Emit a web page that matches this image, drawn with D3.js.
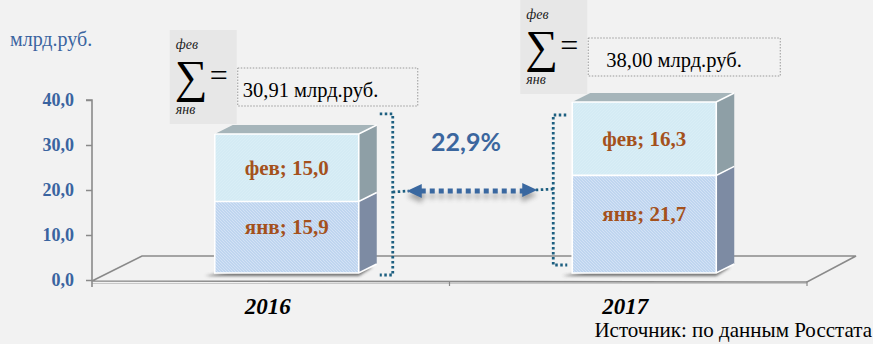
<!DOCTYPE html>
<html><head><meta charset="utf-8">
<script src="https://cdn.jsdelivr.net/npm/d3@7"></script>
<style>
html,body{margin:0;padding:0;background:#f2f2f2;}
svg{display:block;}
</style></head>
<body>
<svg id="c" width="873" height="344"></svg>
<script>
const years = ["2016", "2017"];
const janValues = [15.9, 21.7];
const febValues = [15.0, 16.3];
const totalLabels = ["30,91 млрд.руб.", "38,00 млрд.руб."];
const growthLabel = "22,9%";
const yTicks = [0, 10, 20, 30, 40];
const unitLabel = "млрд.руб.";
const sourceLabel = "Источник: по данным Росстата";
const janName = "янв", febName = "фев";

const SERIF = "'Liberation Serif', 'Times New Roman', serif";
const svg = d3.select("#c");
svg.append("rect").attr("width", 873).attr("height", 344).attr("fill", "#f2f2f2");

const defs = svg.append("defs");
const pat = defs.append("pattern").attr("id", "hatch").attr("patternUnits", "userSpaceOnUse")
  .attr("width", 3).attr("height", 3);
pat.append("rect").attr("width", 3).attr("height", 3).attr("fill", "#bfd5ef");
pat.append("path").attr("d", "M0,0 L3,3 M-1,2 L1,4 M2,-1 L4,1").attr("stroke", "#d8e6f6").attr("stroke-width", 0.8);
const pat2 = defs.append("pattern").attr("id", "hatch2").attr("patternUnits", "userSpaceOnUse")
  .attr("width", 3).attr("height", 3);
pat2.append("rect").attr("width", 3).attr("height", 3).attr("fill", "#d4ebf4");
pat2.append("path").attr("d", "M0,3 L3,0").attr("stroke", "#dcf0f7").attr("stroke-width", 0.6);
const blur = defs.append("filter").attr("id", "blur").attr("x", "-50%").attr("y", "-50%").attr("width", "200%").attr("height", "200%");
blur.append("feGaussianBlur").attr("stdDeviation", 2.5);
const blur2 = defs.append("filter").attr("id", "blur2").attr("x", "-20%").attr("y", "-50%").attr("width", "140%").attr("height", "200%");
blur2.append("feGaussianBlur").attr("stdDeviation", 1.5);

const x = d3.scaleBand().domain(years).range([92, 807]);
const y = d3.scaleLinear().domain([0, 40]).range([280, 100]);

// floor (3D base)
const fdx = 50, fdy = -25;
const floorG = svg.append("g");
floorG.append("path")
  .attr("d", `M${x.range()[0]},${y(0) + 1} L${x.range()[0] + fdx},${y(0) + 1 + fdy} L${x.range()[1] + fdx - 1},${y(0) + 1 + fdy} L${x.range()[1]},${y(0) + 2} Z`)
  .attr("fill", "#f2f2f2").attr("stroke", "#8a8a8a").attr("stroke-width", 1.6);
floorG.append("line").attr("x1", x.range()[0]).attr("x2", x.range()[1]).attr("y1", y(0) + 3.5).attr("y2", y(0) + 3.5)
  .attr("stroke", "#c8c8c8").attr("stroke-width", 1.2);

// y axis
const yAxis = d3.axisLeft(y).tickValues(yTicks).tickSize(6)
  .tickFormat(d => d3.format(".1f")(d).replace(".", ","));
const ya = svg.append("g").attr("transform", `translate(${x.range()[0]},0)`).call(yAxis);
ya.select(".domain").attr("stroke", "#8a8a8a").attr("stroke-width", 1.6).attr("d", `M-6,${y(40)}H0V${y(0) + 7}`);
ya.selectAll(".tick line").attr("stroke", "#8a8a8a").attr("stroke-width", 1.5);
ya.selectAll(".tick text").attr("x", -18).attr("fill", "#3a64a0")
  .style("font-family", SERIF).style("font-weight", "bold").style("font-size", "18px");

// x axis ticks + year labels
const xa = svg.append("g").attr("transform", `translate(0,${y(0) + 1})`);
[x.range()[0] + x.bandwidth(), x.range()[1]].forEach(v => {
  xa.append("line").attr("x1", v).attr("x2", v).attr("y1", 0).attr("y2", 5).attr("stroke", "#8a8a8a").attr("stroke-width", 1.2);
});
xa.selectAll("text.yr").data(years).enter().append("text").attr("class", "yr")
  .attr("x", d => x(d) + x.bandwidth() / 2 - 3).attr("y", 33)
  .attr("text-anchor", "middle")
  .style("font-family", SERIF).style("font-weight", "bold").style("font-style", "italic").style("font-size", "23px")
  .attr("fill", "#000").text(d => d);

// bars
const bw = 144, bdx = 18, bdy = -9, offX = 16, offY = -7;
const bx = d => x(d) + x.bandwidth() / 2 - bw / 2 + offX;
const by = v => y(v) + offY;
const data = years.map((yr, i) => ({yr, jan: janValues[i], feb: febValues[i], total: janValues[i] + febValues[i], label: totalLabels[i]}));

const bars = svg.selectAll("g.bar").data(data).enter().append("g").attr("class", "bar");
bars.append("path")
  .attr("d", d => `M${bx(d.yr) - 10},${by(0) + 3} L${bx(d.yr) + 40},${by(0) - 6} L${bx(d.yr) + bw + 14},${by(0) - 6} L${bx(d.yr) + bw},${by(0) + 3} Z`)
  .attr("fill", "#444").attr("opacity", 0.75).attr("filter", "url(#blur2)");
bars.append("path")
  .attr("d", d => `M${bx(d.yr) + bw},${by(0)} L${bx(d.yr) + bw + bdx},${by(0) + bdy} L${bx(d.yr) + bw + bdx},${by(d.jan) + bdy} L${bx(d.yr) + bw},${by(d.jan)} Z`)
  .attr("fill", "#7d8ba3");
bars.append("path")
  .attr("d", d => `M${bx(d.yr) + bw},${by(d.jan)} L${bx(d.yr) + bw + bdx},${by(d.jan) + bdy} L${bx(d.yr) + bw + bdx},${by(d.total) + bdy} L${bx(d.yr) + bw},${by(d.total)} Z`)
  .attr("fill", "#8e9fa6");
bars.append("path")
  .attr("d", d => `M${bx(d.yr)},${by(d.total)} L${bx(d.yr) + bdx},${by(d.total) + bdy} L${bx(d.yr) + bw + bdx},${by(d.total) + bdy} L${bx(d.yr) + bw},${by(d.total)} Z`)
  .attr("fill", "#a6b5ba");
bars.append("rect").attr("x", d => bx(d.yr)).attr("y", d => by(d.jan)).attr("width", bw).attr("height", d => by(0) - by(d.jan))
  .attr("fill", "url(#hatch)");
bars.append("rect").attr("x", d => bx(d.yr)).attr("y", d => by(d.total)).attr("width", bw).attr("height", d => by(d.jan) - by(d.total))
  .attr("fill", "url(#hatch2)");
bars.append("path")
  .attr("d", d => `M${bx(d.yr)},${by(d.total)} H${bx(d.yr) + bw} L${bx(d.yr) + bw + bdx},${by(d.total) + bdy} M${bx(d.yr)},${by(d.jan)} H${bx(d.yr) + bw} L${bx(d.yr) + bw + bdx},${by(d.jan) + bdy} M${bx(d.yr) + bw},${by(d.total)} V${by(0)} M${bx(d.yr)},${by(d.total)} V${by(0)} H${bx(d.yr) + bw} L${bx(d.yr) + bw + bdx},${by(0) + bdy}`)
  .attr("fill", "none").attr("stroke", "#fff").attr("stroke-width", 1.6);
const lblStyle = s => s.attr("text-anchor", "middle").attr("fill", "#a4511c")
  .style("font-family", SERIF).style("font-weight", "bold").style("font-size", "21px");
bars.append("text").attr("x", d => bx(d.yr) + bw / 2).attr("y", d => (by(d.jan) + by(d.total)) / 2 + 7)
  .call(lblStyle).text(d => `${febName}; ${d3.format(".1f")(d.feb).replace(".", ",")}`);
bars.append("text").attr("x", d => bx(d.yr) + bw / 2).attr("y", d => (by(0) + by(d.jan)) / 2 - 3)
  .call(lblStyle).text(d => `${janName}; ${d3.format(".1f")(d.jan).replace(".", ",")}`);

// sum formula blocks
function sumBlock(gx, gy, label, boxW, textX) {
  const g = svg.append("g").attr("transform", `translate(${gx},${gy})`);
  g.append("rect").attr("x", 0).attr("y", 0).attr("width", 67).attr("height", 94).attr("fill", "#e7e7e7");
  g.append("text").attr("x", 6).attr("y", 19).style("font-family", SERIF).style("font-style", "italic").style("font-size", "14px").attr("fill", "#222").text(febName);
  g.append("text").attr("x", 5).attr("y", 62).style("font-family", SERIF).style("font-size", "46px").attr("fill", "#000").text("∑");
  g.append("text").attr("x", 40).attr("y", 56).style("font-family", SERIF).style("font-size", "32px").attr("fill", "#000").text("=");
  g.append("text").attr("x", 6).attr("y", 84).style("font-family", SERIF).style("font-style", "italic").style("font-size", "14px").attr("fill", "#222").text(janName);
  g.append("rect").attr("x", 68).attr("y", 38).attr("width", boxW).attr("height", 38)
    .attr("fill", "none").attr("stroke", "#9a9a9a").attr("stroke-width", 1).attr("stroke-dasharray", "1.5,1.5");
  g.append("text").attr("x", textX).attr("y", 67).style("font-family", SERIF).style("font-size", "20.5px").attr("fill", "#000").text(label);
}
sumBlock(bx(years[0]) - 45, 30, data[0].label, 180, 73);
sumBlock(bx(years[1]) - 52, 0, data[1].label, 192, 86);

// brackets
const brColor = "#1d5f80";
const b1x = bx(years[0]) + bw + 34, b2x = bx(years[1]) - 19;
const midY = 192;
const ax1 = b1x + 14, ax2 = b2x - 16, ay = 191;
svg.append("path")
  .attr("d", `M${b1x - 13},${by(data[0].total) - 20} H${b1x} V${by(0) + 2} H${b1x - 13} M${b1x},${midY} L${ax1 + 2},${ay}`)
  .attr("fill", "none").attr("stroke", brColor).attr("stroke-width", 2.8).attr("stroke-dasharray", "2.5,2.5");
svg.append("path")
  .attr("d", `M${b2x + 13},${by(data[1].total) + 13} H${b2x} V${by(0) - 8} H${b2x + 14} M${b2x},${midY - 3} L${ax2 - 2},${ay - 1}`)
  .attr("fill", "none").attr("stroke", brColor).attr("stroke-width", 2.8).attr("stroke-dasharray", "2.5,2.5");

// arrow
const arrG = svg.append("g");
const arrShadow = arrG.append("g").attr("filter", "url(#blur)").attr("opacity", 0.45).attr("transform", "translate(0,5)");
[arrShadow, arrG].forEach((g, k) => {
  const col = k === 0 ? "#444" : "#3a68a0";
  g.append("line").attr("x1", ax1 + 14).attr("x2", ax2 - 14).attr("y1", ay).attr("y2", ay)
    .attr("stroke", col).attr("stroke-width", 5).attr("stroke-dasharray", "5,4");
  g.append("path").attr("d", `M${ax1},${ay} L${ax1 + 15},${ay - 7} L${ax1 + 15},${ay + 7} Z`).attr("fill", col);
  g.append("path").attr("d", `M${ax2},${ay - 1} L${ax2 - 15},${ay - 8} L${ax2 - 15},${ay + 6} Z`).attr("fill", col);
});
svg.append("text").attr("x", (ax1 + ax2) / 2 - 6).attr("y", 151).attr("text-anchor", "middle")
  .style("font-family", "Lato, 'Open Sans', sans-serif").style("font-weight", "bold").style("font-size", "25px")
  .attr("fill", "#3b669e").text(growthLabel);

svg.append("text").attr("x", 10).attr("y", 46).style("font-family", SERIF).style("font-size", "20px")
  .attr("fill", "#3a64a0").text(unitLabel);
svg.append("text").attr("x", 872).attr("y", 337).attr("text-anchor", "end").style("font-family", SERIF).style("font-size", "21px")
  .attr("fill", "#000").text(sourceLabel);
</script>
</body></html>
